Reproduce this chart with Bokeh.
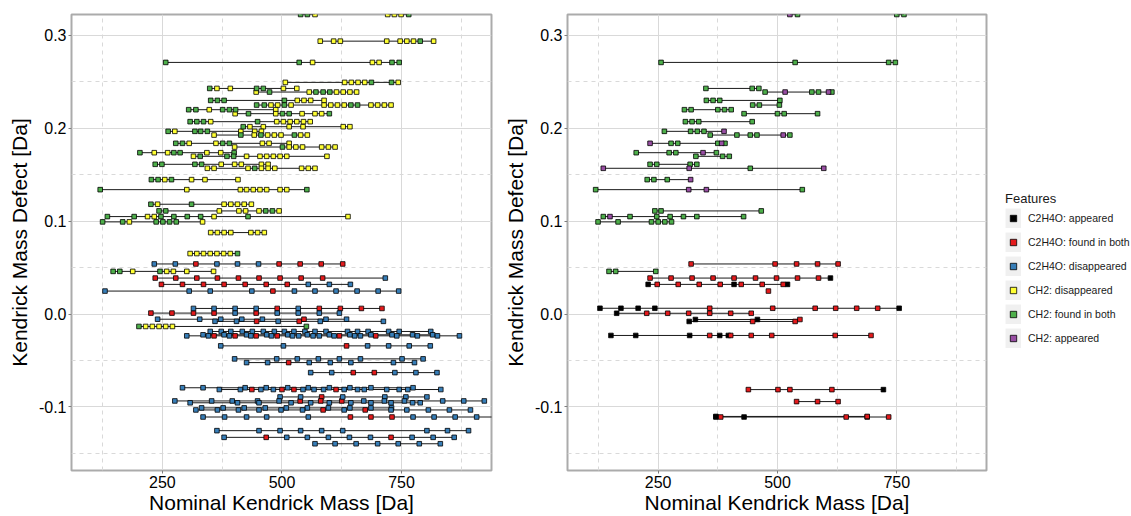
from bokeh.plotting import figure
from bokeh.layouts import row
from bokeh.models import (ColumnDataSource, FixedTicker, NumeralTickFormatter,
                          Legend, LegendItem, Range1d)
from bokeh.embed import file_html
from bokeh.resources import INLINE

# ---------------- data ----------------
FEATURE_CODES = ["k", "r", "b", "y", "g", "p"]
FEATURE_LABELS = ["C2H4O: appeared", "C2H4O: found in both", "C2H4O: disappeared",
                  "CH2: disappeared", "CH2: found in both", "CH2: appeared"]
FEATURE_COLORS = ["#000000", "#e41a1c", "#377eb8", "#ffff33", "#4daf4a", "#984ea3"]

X_TICKS = [250, 500, 750]
X_MINOR = [125, 375, 625, 875]
Y_TICKS = [-0.1, 0.0, 0.1, 0.2, 0.3]
Y_MINOR = [-0.15, -0.05, 0.05, 0.15, 0.25]
X_LIMITS = (60, 938)
Y_LIMITS = (-0.1684, 0.3226)

# left panel: one entry per homologous row (Kendrick mass defect, nominal masses, feature code per point)
LEFT_KMD = [0.3226, 0.3226, 0.2939, 0.2710, 0.2495, 0.2430, 0.2391, 0.2301, 0.2251, 0.2201,
            0.2158, 0.2072, 0.2018, 0.1968, 0.1928, 0.1839, 0.1799, 0.1738, 0.1699, 0.1613,
            0.1570, 0.1448, 0.1340, 0.1183, 0.1111, 0.1050, 0.0993, 0.0878, 0.0652, 0.0540,
            0.0460, 0.0388, 0.0320, 0.0248, 0.0061, 0.0011, -0.0055, -0.0078, -0.0133, -0.0187,
            -0.0223, -0.0234, -0.0342, -0.0482, -0.0522, -0.0630, -0.0793, -0.0812, -0.0892, -0.0935,
            -0.0955, -0.1010, -0.1032, -0.1108, -0.1255, -0.1327, -0.1396]
LEFT_MASSES = [
    [539, 553, 569],
    [721, 735, 749, 765],
    [580, 608, 622, 719, 747, 761, 775, 789, 817],
    [257, 536, 564, 689, 703, 730, 745],
    [507, 631, 645, 659, 673, 687, 729, 743],
    [349, 364, 392, 447, 461, 503, 531],
    [446, 474, 557, 571, 586, 600, 614, 628, 642, 656],
    [351, 365, 379, 505, 532, 546, 560, 588],
    [447, 463, 477, 491, 505, 519, 588, 602, 616, 630, 644, 658, 686, 700, 714, 728],
    [305, 320, 348, 376, 390, 403, 487],
    [402, 430, 487, 501, 515, 542, 569, 583, 599],
    [308, 322, 336, 351, 449, 489, 503, 517, 531, 545, 559],
    [419, 433, 461, 515, 544, 628, 642],
    [262, 276, 318, 330, 344, 414, 443, 457],
    [358, 414, 442, 456, 470, 484, 498, 526, 539, 553],
    [278, 292, 306, 362, 376, 390, 459, 473, 515],
    [401, 501, 515, 529, 543, 583, 597, 611],
    [203, 233, 261, 274, 287, 343, 372, 400],
    [315, 329, 385, 399, 426, 454, 468, 482, 496, 510, 594],
    [235, 249, 318, 332, 373, 401, 415, 457, 471],
    [344, 358, 429, 443, 457, 471, 485, 541, 555, 569],
    [227, 241, 255, 269, 311, 339, 408],
    [120, 301, 413, 426, 440, 454, 468, 496, 510, 552],
    [226, 240, 311, 379, 393, 407, 421, 436],
    [243, 257, 369, 410, 424, 452, 466, 480, 494],
    [135, 191, 219, 233, 247, 274, 302, 330, 358, 429, 638],
    [125, 167, 181, 237, 251, 265, 279, 334],
    [351, 365, 379, 393, 435, 449, 463],
    [308, 322, 336, 350, 364, 378, 392, 407],
    [233, 277, 320, 364, 407, 451, 494, 538, 582, 627],
    [147, 161, 188, 245, 259, 273, 301, 357],
    [235, 278, 322, 365, 409, 452, 496, 540, 585, 716],
    [248, 292, 336, 379, 423, 467, 511, 555, 599, 643],
    [130, 306, 350, 437, 481, 526, 569, 613, 657, 701, 744],
    [315, 358, 402, 446, 490, 534, 578, 622, 666, 709],
    [226, 270, 315, 358, 402, 446, 490, 534, 578, 620],
    [240, 328, 372, 416, 459, 546, 592, 635],
    [360, 405, 447, 492, 536, 580, 712],
    [201, 215, 229, 243, 257, 271, 551],
    [350, 373, 393, 417, 438, 461, 484, 505, 525, 548, 569, 592, 637, 658, 680, 723, 745, 811],
    [335, 379, 426, 468, 512, 553, 599, 642, 686, 730, 773, 815],
    [301, 346, 358, 390, 402, 435, 446, 478, 490, 522, 535, 565, 578, 609, 620, 652, 664, 696,
     740, 783, 825, 871],
    [372, 503, 635, 679, 723, 766, 810],
    [401, 489, 532, 576, 620, 664, 751, 795],
    [426, 470, 514, 557, 601, 644, 733, 777],
    [560, 604, 649, 693, 736, 780, 824],
    [292, 335, 423, 467, 512, 555, 599, 642, 686, 774],
    [369, 413, 437, 456, 482, 500, 525, 544, 567, 587, 613, 630, 658, 672, 719, 745, 763, 832],
    [496, 539, 583, 627, 715, 759, 803],
    [276, 353, 396, 449, 494, 538, 581, 625, 671, 714, 756, 836, 880, 923],
    [308, 407, 452, 519, 560, 599, 644, 686, 728, 773, 789],
    [332, 377, 421, 465, 509, 553, 597, 642, 686, 729],
    [320, 365, 409, 452, 498, 543, 586, 630, 674, 728, 761, 806, 850, 894],
    [335, 380, 426, 468, 555, 643, 686, 730, 774, 818, 862, 907, 955],
    [364, 452, 496, 539, 583, 627, 803, 846, 890],
    [379, 467, 510, 553, 597, 641, 685, 728, 772, 816, 860],
    [569, 611, 655, 700, 743, 787, 831],
]
LEFT_FEATURES = [
    "ggy", "yyyg", "yyyyyyygy", "ggyyygg", "yyyyyggy", "gyyggyy", "ygygggyyyy", "ggggyyyy",
    "ggyygyyyyyggyyyy", "ggygggy", "ygyggyyyg", "gggygyyyyyy", "gyyyyyy", "gygggyyy",
    "ygygyyygyy", "ggyyggyyy", "ygyyyyyy", "gyyggyyg", "ygggyyyyyyy", "ggggyyyyy",
    "yyygyyyyyy", "ggygyyy", "gyyyyyyyyg", "gygyyyyy", "ggyyyyggy", "ggyyggggygy",
    "ggyggggy", "yyyyyyy", "yyyyyyyg", "bbrbbbrrrr", "ggygyyyy", "rrrrrrrrrb", "rrrrrrrbbb",
    "bbbbrbbbbbb", "bbbbrbrrrr", "rrrrbrbbbb", "bbbbbrbb", "bbrbrbb", "gyyyyyg",
    "bbbbbbbbbbbbbbbbbb", "bbbbbbbbbbbb", "bbrbrbrbrbbbbbrbbrbbbb", "bbrbbbb", "bbbbbbbb",
    "bbrbbbbb", "bbrrbbb", "bbbbbbbbbb", "bbrbbrrbbbrbbbbbbb", "bbrbbbb", "bbbbbrrrbbbbbb",
    "bbbbbbbbbbb", "bbbbbbbbbb", "bbbbbbrbrbbbbb", "bbbbbrrrbbbbb", "bbbbbbbbb",
    "brbbbbbrbbb", "bbbbbbb",
]

RIGHT_KMD = [0.3226, 0.3226, 0.2710, 0.2430, 0.2391, 0.2301, 0.2251, 0.2201, 0.2158, 0.2072,
             0.1968, 0.1928, 0.1839, 0.1738, 0.1699, 0.1613, 0.1570, 0.1448, 0.1340, 0.1111,
             0.1050, 0.0993, 0.0540, 0.0460, 0.0388, 0.0320, 0.0248, 0.0063, 0.0009, -0.0058,
             -0.0079, -0.0230, -0.0813, -0.0942, -0.1108, -0.1102]
RIGHT_MASSES = [
    [526, 542], [750, 765], [256, 537, 733, 747], [350, 447, 461],
    [474, 516, 572, 586, 607, 614], [351, 365, 379, 505], [448, 462, 504],
    [305, 319, 375, 389, 403], [430, 500, 514, 584], [307, 321, 335, 447],
    [263, 318, 332, 346, 388], [359, 415, 443, 457, 512, 526], [233, 277, 291, 375, 383, 390],
    [204, 273, 287, 344, 372], [329, 385, 399], [233, 247, 317, 331], [135, 315, 443, 597],
    [227, 241, 269, 318], [119, 314, 351, 552], [243, 256, 466],
    [135, 149, 191, 247, 275, 303, 331, 429], [124, 166, 236, 250, 264, 278],
    [319, 495, 540, 584, 627], [147, 161, 245],
    [233, 277, 321, 365, 409, 454, 498, 542, 586, 611],
    [229, 248, 292, 336, 380, 409, 424, 468, 512, 521], [481],
    [128, 172, 208, 243, 358, 490, 579, 622, 666, 710, 755],
    [163, 226, 270, 314, 358, 402, 445], [328, 458, 547], [315, 448, 537],
    [151, 203, 316, 358, 379, 397, 402, 445, 488, 621, 696],
    [439, 501, 526, 614, 722], [540, 584, 627], [371, 381, 430, 644, 688, 733], [371, 688],
]
RIGHT_FEATURES = [
    "pg", "gg", "gggg", "ggg", "gpggpg", "gggg", "ggg", "ggggg", "gggg", "gggg", "ggggp",
    "ggggpg", "pgggpg", "gggpg", "ggg", "gggg", "ppgp", "gggp", "gppg", "ggg", "gpgggggg",
    "gggggg", "rrrrr", "ggg", "rrrrrrrrrk", "krrrrkrrrk", "r", "kkkkrrrrrrk", "krrrrrr",
    "kkr", "krr", "kkkrkkrrrrr", "rrrrk", "rrr", "krkrrr", "kr",
]

FONT = "Liberation Sans"
HEIGHT = 516


def make_panel(kmd, masses, features, width, border_left, border_right):
    p = figure(width=width, height=HEIGHT, x_range=Range1d(*X_LIMITS), y_range=Range1d(*Y_LIMITS),
               output_backend="svg", toolbar_location=None,
               min_border_left=border_left, min_border_right=border_right,
               min_border_top=14, min_border_bottom=0,
               x_axis_label="Nominal Kendrick Mass [Da]", y_axis_label="Kendrick Mass Defect [Da]")

    seg = ColumnDataSource(dict(x0=[min(m) for m in masses], x1=[max(m) for m in masses], y=kmd))
    p.segment(x0="x0", y0="y", x1="x1", y1="y", source=seg, line_color="#1a1a1a", line_width=1)

    for code, color in zip(FEATURE_CODES, FEATURE_COLORS):
        xs, ys = [], []
        for k, m, f in zip(kmd, masses, features):
            assert len(m) == len(f), (k, m, f)
            for x, c in zip(m, f):
                if c == code:
                    xs.append(x)
                    ys.append(k)
        if xs:
            p.scatter(xs, ys, marker="square", size=4.6, fill_color=color,
                      line_color="black", line_width=0.8)

    xt = FixedTicker(ticks=X_TICKS, minor_ticks=X_MINOR)
    yt = FixedTicker(ticks=Y_TICKS, minor_ticks=Y_MINOR)
    p.xaxis.ticker = xt
    p.yaxis.ticker = yt
    p.xgrid.ticker = xt
    p.ygrid.ticker = yt
    p.xaxis.formatter = NumeralTickFormatter(format="0")
    p.yaxis.formatter = NumeralTickFormatter(format="0.0")

    p.grid.grid_line_color = "#d9d9d9"
    p.grid.grid_line_width = 1
    p.grid.minor_grid_line_color = "#d9d9d9"
    p.grid.minor_grid_line_dash = "4 4"

    p.axis.axis_line_color = None
    p.axis.major_tick_line_color = "#7f7f7f"
    p.axis.major_tick_out = 3
    p.axis.major_tick_in = 0
    p.axis.minor_tick_line_color = None
    p.axis.major_label_text_font = FONT
    p.axis.major_label_text_font_size = "16px"
    p.axis.major_label_text_color = "#000000"
    p.axis.major_label_standoff = 1
    p.axis.axis_label_text_font = FONT
    p.axis.axis_label_text_font_size = "21px"
    p.axis.axis_label_text_font_style = "normal"
    p.axis.axis_label_text_color = "#000000"
    p.xaxis.axis_label_standoff = 0
    p.yaxis.axis_label_standoff = 5

    p.outline_line_color = "#ababab"
    p.outline_line_width = 2
    return p


left = make_panel(LEFT_KMD, LEFT_MASSES, LEFT_FEATURES, 500, 71, 9)
right = make_panel(RIGHT_KMD, RIGHT_MASSES, RIGHT_FEATURES, 490, 66, 4)

# legend panel: a bare figure that only holds the legend
leg = figure(width=141, height=HEIGHT, x_range=Range1d(0, 1), y_range=Range1d(0, 1),
             output_backend="svg", toolbar_location=None,
             x_axis_location=None, y_axis_location=None,
             min_border_left=0, min_border_right=0, min_border_top=0, min_border_bottom=0)
leg.grid.visible = False
leg.outline_line_color = None

key_bg = leg.line(x=[-10, -9], y=[-10, -10], line_color="#f0f0f0", line_width=20, line_cap="butt")
items = []
for label, color in zip(FEATURE_LABELS, FEATURE_COLORS):
    r = leg.scatter([-10], [-10], marker="square", fill_color=color,
                    line_color="black", line_width=0.8)
    items.append(LegendItem(label=label, renderers=[key_bg, r]))

legend = Legend(items=items, title="Features", location=(15, 122),
                title_text_font=FONT, title_text_font_size="13px", title_text_font_style="normal",
                title_text_color="#1a1a1a", title_standoff=2,
                label_text_font=FONT, label_text_font_size="10.5px", label_text_color="#1a1a1a",
                glyph_width=16, glyph_height=20, label_height=20, spacing=4, label_standoff=7,
                padding=0, margin=0, border_line_color=None, background_fill_alpha=0)
leg.add_layout(legend)

layout = row(left, right, leg)
open("out.html", "w").write(file_html(layout, INLINE))
